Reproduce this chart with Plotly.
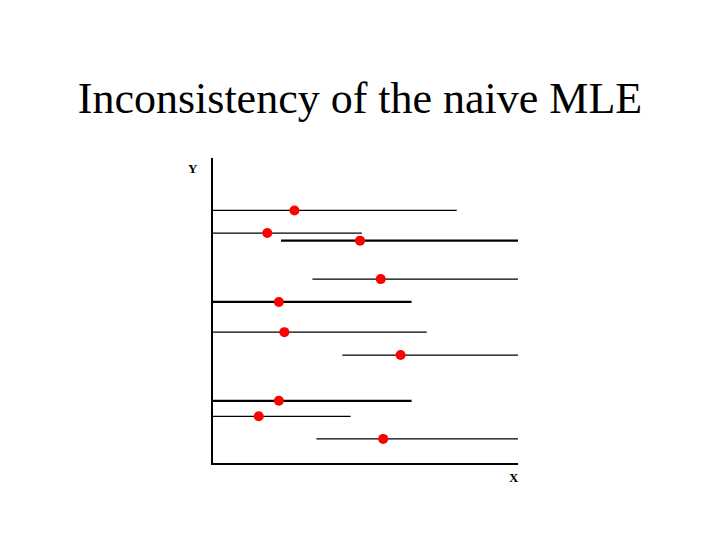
import plotly.graph_objects as go

# Data (axis units 0..100)
y_levels = [82.8, 75.4, 72.9, 60.3, 52.8, 42.9, 35.4, 20.4, 15.3, 7.9]
x_start = [0, 0, 22.3, 32.6, 0, 0, 42.4, 0, 0, 33.9]
x_end = [79.9, 48.8, 100, 100, 65.1, 70.1, 100, 65.1, 45.1, 100]
x_dot = [26.7, 17.8, 48.2, 55.0, 21.6, 23.4, 61.5, 21.6, 15.0, 55.8]
thick = [False, False, True, False, True, False, False, True, False, False]

W, H = 712, 532

fig = go.Figure()

for xs, xe, y, th in zip(x_start, x_end, y_levels, thick):
    fig.add_trace(go.Scatter(
        x=[xs, xe], y=[y, y], mode="lines",
        line=dict(color="black", width=2.2 if th else 1.2),
        hoverinfo="skip", showlegend=False,
    ))

fig.add_trace(go.Scatter(
    x=x_dot, y=y_levels, mode="markers",
    marker=dict(color="#ff0000", size=10, line=dict(width=0)),
    showlegend=False, cliponaxis=False,
))

fig.update_layout(
    width=W, height=H,
    paper_bgcolor="white", plot_bgcolor="white",
    margin=dict(l=205, r=202, t=150, b=77),
    title=dict(
        text="Inconsistency of the naive MLE",
        x=352 / W, xref="container", xanchor="center",
        y=1 - 89.3 / H, yref="container", yanchor="middle",
        font=dict(family="Liberation Serif, Times New Roman, serif", size=44, color="black"),
    ),
    xaxis=dict(range=[0, 100], showline=True, linewidth=2, linecolor="black",
               showgrid=False, zeroline=False, showticklabels=False, ticks=""),
    yaxis=dict(range=[0, 100], showline=True, linewidth=2, linecolor="black",
               showgrid=False, zeroline=False, showticklabels=False, ticks=""),
    annotations=[
        dict(text="<b>Y</b>", x=-0.064, y=0.966, xref="paper", yref="paper", showarrow=False,
             xanchor="center", yanchor="middle",
             font=dict(family="Liberation Serif, serif", size=13, color="black")),
        dict(text="<b>X</b>", x=0.987, y=-0.049, xref="paper", yref="paper", showarrow=False,
             xanchor="center", yanchor="middle",
             font=dict(family="Liberation Serif, serif", size=13, color="black")),
    ],
)

fig.write_html("out.html")
